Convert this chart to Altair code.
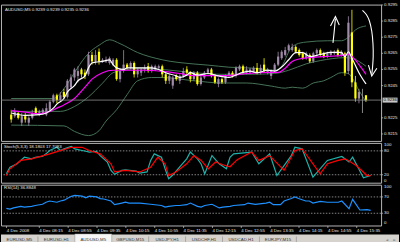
import json
import pandas as pd
import altair as alt

FONT = "Liberation Sans"
FS = 4.4
TXT = "#e4e4e4"
FRAME = "#b4b4b4"

# ---------------- main panel: AUDUSD M5 candles (bar 0 = 07:30, 4 Dec 2008) ----------------
opens = [0.9227,0.9226,0.9228,0.9222,0.9226,0.9222,0.9225,0.9231,0.9227,0.9228,
 0.9227,0.9230,0.9235,0.9239,0.9236,0.9241,0.9238,0.9244,0.9250,0.9251,
 0.9255,0.9253,0.9252,0.9264,0.9260,0.9266,0.9260,0.9260,0.9259,0.9258,
 0.9261,0.9249,0.9254,0.9258,0.9256,0.9259,0.9252,0.9253,0.9255,0.9257,
 0.9254,0.9255,0.9256,0.9257,0.9252,0.9248,0.9245,0.9251,0.9248,0.9251,
 0.9255,0.9253,0.9249,0.9253,0.9246,0.9250,0.9253,0.9255,0.9251,0.9246,
 0.9249,0.9247,0.9251,0.9253,0.9251,0.9255,0.9257,0.9253,0.9253,0.9254,
 0.9256,0.9253,0.9258,0.9253,0.9251,0.9254,0.9258,0.9262,0.9264,0.9267,
 0.9267,0.9269,0.9267,0.9265,0.9262,0.9264,0.9260,0.9265,0.9267,0.9265,
 0.9263,0.9264,0.9265,0.9267,0.9264,0.9265,0.9254,0.9278,0.9247,0.9237,
 0.9240,0.9239]
highs = [0.9230,0.9231,0.9229,0.9228,0.9228,0.9226,0.9230,0.9232,0.9230,0.9231,
 0.9234,0.9236,0.9240,0.9240,0.9241,0.9243,0.9249,0.9252,0.9256,0.9257,
 0.9256,0.9255,0.9266,0.9266,0.9267,0.9268,0.9262,0.9263,0.9263,0.9262,
 0.9262,0.9256,0.9267,0.9259,0.9260,0.9260,0.9256,0.9256,0.9258,0.9259,
 0.9258,0.9258,0.9258,0.9258,0.9253,0.9252,0.9251,0.9252,0.9252,0.9256,
 0.9257,0.9254,0.9254,0.9254,0.9251,0.9254,0.9256,0.9256,0.9252,0.9250,
 0.9250,0.9252,0.9254,0.9254,0.9257,0.9258,0.9258,0.9257,0.9256,0.9257,
 0.9259,0.9258,0.9262,0.9256,0.9255,0.9259,0.9266,0.9267,0.9269,0.9271,
 0.9271,0.9270,0.9268,0.9266,0.9266,0.9265,0.9266,0.9268,0.9268,0.9266,
 0.9266,0.9267,0.9267,0.9268,0.9267,0.9266,0.9288,0.9292,0.9251,0.9243,
 0.9243,0.9239]
lows = [0.9222,0.9225,0.9224,0.9220,0.9222,0.9220,0.9224,0.9227,0.9226,0.9227,
 0.9226,0.9229,0.9234,0.9234,0.9235,0.9237,0.9237,0.9243,0.9248,0.9247,
 0.9250,0.9249,0.9251,0.9258,0.9258,0.9258,0.9259,0.9259,0.9258,0.9257,
 0.9248,0.9247,0.9253,0.9255,0.9255,0.9250,0.9250,0.9251,0.9253,0.9253,
 0.9253,0.9254,0.9255,0.9250,0.9246,0.9246,0.9243,0.9248,0.9246,0.9250,
 0.9252,0.9247,0.9248,0.9245,0.9245,0.9249,0.9252,0.9250,0.9246,0.9244,
 0.9246,0.9246,0.9250,0.9250,0.9250,0.9254,0.9252,0.9252,0.9252,0.9253,
 0.9252,0.9252,0.9253,0.9252,0.9249,0.9253,0.9257,0.9261,0.9263,0.9266,
 0.9266,0.9265,0.9263,0.9261,0.9261,0.9259,0.9259,0.9263,0.9263,0.9262,
 0.9262,0.9263,0.9264,0.9263,0.9263,0.9251,0.9252,0.9244,0.9235,0.9234,
 0.9228,0.9235]
closes = [0.9224,0.9229,0.9225,0.9226,0.9224,0.9225,0.9228,0.9228,0.9229,0.9230,
 0.9231,0.9235,0.9239,0.9236,0.9239,0.9238,0.9248,0.9250,0.9255,0.9254,
 0.9252,0.9251,0.9264,0.9260,0.9264,0.9260,0.9261,0.9261,0.9262,0.9261,
 0.9249,0.9254,0.9258,0.9256,0.9259,0.9252,0.9255,0.9255,0.9256,0.9254,
 0.9257,0.9257,0.9257,0.9252,0.9248,0.9251,0.9250,0.9249,0.9251,0.9254,
 0.9253,0.9249,0.9253,0.9246,0.9250,0.9253,0.9255,0.9251,0.9247,0.9249,
 0.9247,0.9251,0.9253,0.9251,0.9256,0.9257,0.9253,0.9255,0.9255,0.9256,
 0.9253,0.9256,0.9254,0.9255,0.9254,0.9258,0.9263,0.9266,0.9267,0.9270,
 0.9269,0.9266,0.9264,0.9262,0.9265,0.9260,0.9265,0.9267,0.9264,0.9263,
 0.9265,0.9266,0.9266,0.9264,0.9266,0.9253,0.9284,0.9247,0.9237,0.9241,
 0.9240,0.9236]

# moving averages (white fast, magenta slow)
white_bar = [0,4,8,10,12,13,15,16,18,19,21,22,23,24,26,28,29,30,32,33,36,40,42,44,47,48,50,51,53,56,
             59,62,65,68,70,73,75,77,79,81,83,85,88,91,94,95,96,97,99,101]
white_px = [0.9228,0.92265,0.9227,0.9228,0.9231,0.92335,0.9237,0.9241,0.9245,0.9248,0.9251,0.9256,0.9259,
            0.92595,0.9260,0.9261,0.9258,0.9256,0.9255,0.9256,0.9256,0.9256,0.9255,0.9253,0.9251,0.9250,
            0.92515,0.9253,0.92515,0.92525,0.9251,0.9250,0.92525,0.9254,0.9253,0.92545,0.9254,0.92565,
            0.9261,0.92655,0.92655,0.9263,0.92643,0.92656,0.92656,0.9263,0.9266,0.9262,0.9253,0.9246]
magenta_bar = [0,4,8,11,13,15,18,21,23,26,29,33,38,43,48,52,56,62,67,73,76,78,80,82,85,89,94,96,97,99,101]
magenta_px = [0.92295,0.92285,0.92275,0.9229,0.9231,0.9233,0.9237,0.9244,0.9249,0.9253,0.92545,0.92545,
              0.92545,0.92538,0.92525,0.92512,0.92512,0.92512,0.92525,0.92532,0.92532,0.92558,0.9260,
              0.92615,0.92623,0.9263,0.92636,0.92643,0.9263,0.9258,0.9252]
# Bollinger bands
upper_bar = [0,12,15,18,21,23,25,28,31,36,43,52,56,62,69,75,77,78,79,81,84,90,94,96,98,101]
upper_px = [0.9237,0.9237,0.9243,0.9253,0.92625,0.9267,0.9270,0.92734,0.9271,0.92655,0.9261,0.92584,
            0.92577,0.92564,0.92558,0.92545,0.9257,0.9261,0.9266,0.92705,0.9272,0.92728,0.92728,0.9275,
            0.92795,0.9282]
middle_bar = [0,14,18,22,26,29,32,36,43,52,60,68,75,79,84,88,95,97,99,101]
middle_px = [0.9229,0.9229,0.9232,0.9238,0.92465,0.9253,0.92545,0.92555,0.9255,0.9253,0.9252,0.9252,
             0.92525,0.92545,0.92585,0.92605,0.92623,0.9262,0.9260,0.9257]
lower_bar = [0,15,18,22,25,27,30,33,36,40,43,52,60,67,74,78,80,83,86,89,91,94,96,97,99,101]
lower_px = [0.92205,0.9220,0.92166,0.9214,0.9217,0.9223,0.9230,0.92394,0.9248,0.9250,0.9250,0.9248,
            0.92466,0.92466,0.92447,0.92434,0.9244,0.92434,0.92466,0.9248,0.9250,0.9253,0.92525,0.9250,
            0.9242,0.9235]
price_ticks = [0.9295,0.9285,0.9275,0.9265,0.9255,0.9245,0.9225,0.9215]

# hand-drawn arrows (bar position, price)
arrow_curve_bar = {"up": [91.6,91.9,92.3],
                   "down": [100.0,101.1,101.96,102.65,103.0,103.06,102.87,102.65]}
arrow_curve_px = {"up": [0.92715,0.92774,0.92865],
                  "down": [0.92917,0.92891,0.92852,0.92787,0.92708,0.92630,0.92564,0.92519]}
arrow_head_bar = {"up_h": [90.9,92.3,93.4], "down_h": [101.7,102.65,104.1]}
arrow_head_px = {"up_h": [0.92819,0.92878,0.92826], "down_h": [0.92577,0.92509,0.92558]}

# ---------------- Stochastic ----------------
k_bar = [0,1,3,4,5,7,8,10,11,12,14,15,16,18,19,21,22,23,25,26,28,29,30,32,33,36,37,39,40,41,
         43,44,45,46,48,50,51,53,54,55,57,59,61,62,63,68,70,73,75,79,80,82,85,89,93,95,96,99,101]
k_val = [22.5,39,47.5,56,64,60,64,66,72.5,81,89,81,85,91,85,81,79,77,79,68,52,31,21,31,32.5,29,24,27,56,72.5,
         64,35,10,18,39,60,77,60,47,22.5,68,47.5,35,64,72.5,77,47.5,72.5,18,68,89,85,14,56,66,52,64,12.5,18.18]
d_bar = [0,1,4,7,12,18,21,23,26,29,30,33,37,40,42,44,45,47,50,52,54,56,58,60,62,64,68,70,73,77,
         80,82,87,89,92,94,97,100,101]
d_val = [18,35,56,60,72.5,89,89,81,72.5,47.5,27,31,27,39,64,47.5,18,27,47.5,68,56,35,52,45,40,58,77,56,68,31,
         81,85,22.5,47.5,56,60,43,18,17.7]
stoch_levels = [80, 20]
stoch_ticks = [100, 80, 20, 0]

# ---------------- RSI ----------------
rsi_bar = [0,1,2,4,5,7,8,10,11,12,14,15,16,18,19,21,22,23,25,26,27,29,30,32,33,34,37,40,43,44,
           45,47,48,50,51,53,54,55,57,59,60,62,63,66,67,69,72,73,74,76,77,79,80,81,83,84,85,87,89,90,
           92,93,95,96,97,98,100,101]
rsi_val = [42,40,43,47,45,47,49,52,57,60,57,60,62,71.5,74,72,68,72,70,66,65,60,51,55,57,55,55,52,49,45,
           47,49,49,51,55,47,45,49,52,43,45,47,49,51,55,52,55,57,51,51,60,66,70,66,60,60,55,59,57,57,
           57,60,41,64,51,38,39,36.9]
rsi_levels = [70, 30]
rsi_ticks = [100, 70, 30, 0]

tick_bars = [0,9,17,25,33,41,49,57,65,73,81,89,97]
tick_text = ["4 Dec 2008","4 Dec 08:15","4 Dec 08:55","4 Dec 09:35","4 Dec 10:15","4 Dec 10:55",
             "4 Dec 11:35","4 Dec 12:15","4 Dec 12:55","4 Dec 13:35","4 Dec 14:15","4 Dec 14:55","4 Dec 15:35"]

main_title = "AUDUSD,M5  0.9239 0.9239 0.9235 0.9236"
stoch_title = "Stoch(5,3,3) 18.1803 17.7083"
rsi_title = "RSI(14) 36.8848"

tabs = ["EURUSD,M5","EURUSD,H1","AUDUSD,M5","GBPUSD,M15","USDJPY,H1","USDCHF,H1","USDCAD,H1","EURJPY,M15"]
active_tab = "AUDUSD,M5"

# ---------------- build ----------------
W = 382
X_DOM = [-1.49, 103.89]
PRICE_DOM = [0.921069, 0.929523]


def xq():
    return alt.X("bar:Q", scale=alt.Scale(domain=X_DOM, nice=False, zero=False), axis=None)


pscale = alt.Scale(domain=PRICE_DOM, nice=False, zero=False)
sscale = alt.Scale(domain=[0, 100], nice=False, zero=False)


def series(idx, vals, color, width, scale, interp="monotone"):
    d = pd.DataFrame({"bar": idx, "v": vals})
    return alt.Chart(d).mark_line(color=color, strokeWidth=width, interpolate=interp).encode(
        x=xq(), y=alt.Y("v:Q", scale=scale, axis=None))


def label(text, x, y):
    return alt.Chart(pd.DataFrame({"t": [text]})).mark_text(
        align="left", baseline="middle", font=FONT, fontSize=FS, color=TXT
    ).encode(x=alt.value(x), y=alt.value(y), text="t:N")


def right_scale(values, scale, fmt, baseline="middle"):
    """value labels + small ticks on the right-hand price/indicator scale"""
    d = pd.DataFrame({"v": values})
    d["t"] = [format(v, fmt) for v in values]
    ticks = alt.Chart(d).mark_rule(color=FRAME, strokeWidth=0.8).encode(
        x=alt.value(W), x2=alt.value(W + 2), y=alt.Y("v:Q", scale=scale, axis=None))
    txt = alt.Chart(d).mark_text(align="left", baseline=baseline, font=FONT, fontSize=FS,
                                 color=TXT).encode(
        x=alt.value(W + 3), y=alt.Y("v:Q", scale=scale, axis=None), text="t:N")
    return [ticks, txt]


N = len(closes)
candles = pd.DataFrame(dict(bar=list(range(N)), open=opens, high=highs, low=lows, close=closes))
candles["dir"] = ["up" if c > o else ("down" if c < o else "doji") for o, c in zip(opens, closes)]
cscale = alt.Scale(domain=["up", "down", "doji"], range=["#a08aaa", "#ffff00", "#a8a8a8"])

band_col = "#4d7f60"
upper = series(upper_bar, upper_px, band_col, 0.9, pscale)
middle = series(middle_bar, middle_px, band_col, 0.9, pscale)
lower = series(lower_bar, lower_px, band_col, 0.9, pscale)

wicks = alt.Chart(candles).mark_rule(strokeWidth=0.8).encode(
    x=xq(), y=alt.Y("low:Q", scale=pscale, axis=None), y2="high:Q",
    color=alt.Color("dir:N", scale=cscale, legend=None))
bodies = alt.Chart(candles).mark_bar(size=2.2).encode(
    x=xq(), y=alt.Y("open:Q", scale=pscale, axis=None), y2="close:Q",
    color=alt.Color("dir:N", scale=cscale, legend=None))

magenta = series(magenta_bar, magenta_px, "#ff00ff", 1.2, pscale)
white = series(white_bar, white_px, "#ffffff", 1.2, pscale)

last = pd.DataFrame({"p": [closes[-1]], "t": [f"{closes[-1]:.4f}"]})
price_line = alt.Chart(last).mark_rule(color="#8e8e8e", strokeWidth=0.8).encode(
    y=alt.Y("p:Q", scale=pscale, axis=None))
price_box = alt.Chart(last).mark_tick(orient="horizontal", thickness=5, size=15, color="#c8c8c8",
                                      opacity=1).encode(
    x=alt.value(W + 9), y=alt.Y("p:Q", scale=pscale, axis=None))
price_txt = alt.Chart(last).mark_text(align="left", baseline="middle", font=FONT, fontSize=FS,
                                      color="#000000").encode(
    x=alt.value(W + 2.5), y=alt.Y("p:Q", scale=pscale, axis=None), text="t:N")

rows = []
for name in arrow_curve_bar:
    for i, (b, p) in enumerate(zip(arrow_curve_bar[name], arrow_curve_px[name])):
        rows.append({"stroke": name, "seq": i, "bar": b, "p": p})
curves = pd.DataFrame(rows)
rows = []
for name in arrow_head_bar:
    for i, (b, p) in enumerate(zip(arrow_head_bar[name], arrow_head_px[name])):
        rows.append({"stroke": name, "seq": i, "bar": b, "p": p})
heads = pd.DataFrame(rows)
arrow_c = alt.Chart(curves).mark_line(color="white", strokeWidth=1.1, interpolate="cardinal").encode(
    x=xq(), y=alt.Y("p:Q", scale=pscale, axis=None), detail="stroke:N", order="seq:Q")
arrow_h = alt.Chart(heads).mark_line(color="white", strokeWidth=1.1).encode(
    x=xq(), y=alt.Y("p:Q", scale=pscale, axis=None), detail="stroke:N", order="seq:Q")

p1 = alt.layer(upper, middle, lower, wicks, bodies, magenta, white, price_line, arrow_c, arrow_h,
               *right_scale(price_ticks, pscale, ".4f"),
               price_box, price_txt, label(main_title, 4, 5.5)).properties(width=W, height=137)


def indicator_scale(ticks):
    top, mids, bot = ticks[0], ticks[1:-1], ticks[-1]
    return (right_scale([top], sscale, "d", "top")[1:] + right_scale(mids, sscale, "d")
            + right_scale([bot], sscale, "d", "bottom")[1:])


def levels(vals):
    return alt.Chart(pd.DataFrame({"lv": vals})).mark_rule(
        color="#bcbcbc", strokeDash=[1.5, 1.5], strokeWidth=0.7).encode(
        y=alt.Y("lv:Q", scale=sscale, axis=None))


# stochastic panel
k_line = series(k_bar, k_val, "#20b2aa", 1.2, sscale, interp="linear")
d_line = series(d_bar, d_val, "#ff0000", 1.2, sscale, interp="linear")
p2 = alt.layer(levels(stoch_levels), k_line, d_line, *indicator_scale(stoch_ticks),
               label(stoch_title, 3, 4)).properties(width=W, height=40)

# RSI panel
expr = f"{json.dumps(tick_text)}[indexof({json.dumps(tick_bars)}, datum.value)]"
x_axis = alt.Axis(values=tick_bars, labelExpr=expr, labelAlign="left", labelPadding=1, tickSize=2,
                  tickColor=FRAME, tickWidth=0.8, labelColor=TXT, labelFont=FONT, labelFontSize=FS,
                  domain=False, grid=False, labelFlush=False, labelOverlap=False, title=None)
rsi_df = pd.DataFrame({"bar": rsi_bar, "v": rsi_val})
rsi_line = alt.Chart(rsi_df).mark_line(color="#1e90ff", strokeWidth=1.2).encode(
    x=alt.X("bar:Q", scale=alt.Scale(domain=X_DOM, nice=False, zero=False), axis=x_axis),
    y=alt.Y("v:Q", scale=sscale, axis=None))
p3 = alt.layer(levels(rsi_levels), rsi_line, *indicator_scale(rsi_ticks),
               label(rsi_title, 3, 3.5)).properties(width=W, height=41)

# tab bar (top 7 px of this panel stay black for the time labels)
TAB_DOM = [0, 10.78]
tscale = alt.Scale(domain=TAB_DOM, nice=False, zero=False)
tab_df = pd.DataFrame({"name": tabs, "pos": [i + 0.5 for i in range(len(tabs))]})
act_i = tabs.index(active_tab)
act_df = pd.DataFrame({"a": [act_i], "b": [act_i + 1]})
sep_df = pd.DataFrame({"s": [i for i in range(1, len(tabs) + 1) if i not in (act_i, act_i + 1)]})
bar_bg = alt.Chart(pd.DataFrame({"k": [0]})).mark_rect(color="#d6d3ce").encode(
    x=alt.value(0), x2=alt.value(400), y=alt.value(7), y2=alt.value(18))
act_rect = alt.Chart(act_df).mark_rect(color="#f6f6f6", stroke="#8a8a8a", strokeWidth=0.5).encode(
    x=alt.X("a:Q", scale=tscale, axis=None), x2="b:Q", y=alt.value(6.5), y2=alt.value(18))
seps = alt.Chart(sep_df).mark_rule(color="#8a8a8a", strokeWidth=0.6).encode(
    x=alt.X("s:Q", scale=tscale, axis=None), y=alt.value(9), y2=alt.value(16))
tab_txt = alt.Chart(tab_df).mark_text(font=FONT, fontSize=FS, color="#333333", baseline="middle").encode(
    x=alt.X("pos:Q", scale=tscale, axis=None), y=alt.value(12.5), text="name:N")
arr_df = pd.DataFrame({"pos": [10.45, 10.66], "t": ["◄", "►"]})
arr_txt = alt.Chart(arr_df).mark_text(font="DejaVu Sans", fontSize=3.6, color="#7a7a7a",
                                      baseline="middle").encode(
    x=alt.X("pos:Q", scale=tscale, axis=None), y=alt.value(12.5), text="t:N")
p4 = alt.layer(bar_bg, act_rect, seps, tab_txt, arr_txt).properties(
    width=400, height=18, view=alt.ViewBackground(stroke="transparent"))

chart = alt.vconcat(p1, p2, p3, p4, spacing=2, bounds="flush").resolve_scale(
    x="independent", y="independent", color="independent"
).properties(background="#000000", padding=0).configure_view(stroke=FRAME, strokeWidth=1)

chart.save("out.html", embed_options={"renderer": "svg", "actions": False})
